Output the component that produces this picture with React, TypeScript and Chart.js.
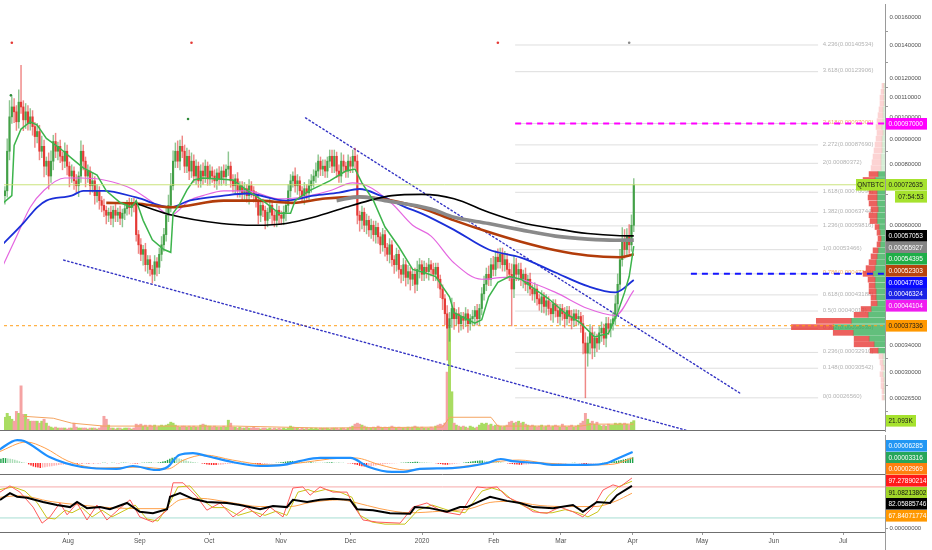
import React, { useEffect, useRef } from 'react';
import { Chart, registerables } from 'chart.js';

Chart.register(...registerables);

const FONT = '"Liberation Sans", Arial, sans-serif';
const AXIS_W = 47;
const X_MIN = 0.605;
const X_MAX = 383.06;
const Y_MIN = 0.0002271;
const Y_MAX = 0.0017055;

// Calendar: day 0 = 2 Jul 2019, one candle per day
const monthDays = [30, 61, 91, 122, 152, 183, 214, 243, 274, 304, 335, 365];
const monthLabels = ['Aug', 'Sep', 'Oct', 'Nov', 'Dec', '2020', 'Feb', 'Mar', 'Apr', 'May', 'Jun', 'Jul'];

const priceTicks = [0.0016, 0.0014, 0.0012, 0.0011, 0.001, 0.0009, 0.0008, 0.0006, 0.00034, 0.0003, 0.000265];

// Daily candles, prices x 1e6 BTC
const firstOpenE6 = 757;
const closeE6 = [
  690, 706, 851, 1001, 1049, 1025, 978, 1073, 1049, 987, 1025, 969, 1001, 956, 912, 934, 851, 871, 793, 812, 757, 812, 891, 851, 871,
  831, 812, 851, 793, 757, 775, 740, 723, 757, 851, 812, 757, 775, 723, 740, 690, 706, 674, 659, 644, 629, 638, 620, 644, 629,
  638, 620, 635, 649, 662, 652, 668, 659, 574, 547, 523, 535, 498, 510, 487, 476, 505, 492, 523, 547, 574, 629, 659, 723, 812,
  851, 812, 871, 851, 793, 831, 775, 812, 757, 793, 740, 775, 757, 793, 747, 775, 757, 740, 768, 747, 775, 754, 782, 793, 740,
  723, 747, 706, 723, 699, 713, 690, 723, 706, 690, 674, 629, 659, 644, 614, 638, 659, 629, 614, 644, 629, 620, 638, 659, 706,
  740, 757, 723, 740, 706, 690, 713, 699, 723, 740, 757, 775, 812, 782, 793, 775, 812, 831, 793, 831, 775, 757, 812, 793, 775,
  812, 793, 831, 812, 629, 614, 638, 600, 614, 587, 600, 574, 594, 568, 547, 574, 540, 523, 547, 510, 498, 523, 487, 476, 498,
  469, 482, 465, 476, 454, 487, 498, 476, 492, 482, 498, 487, 476, 492, 465, 444, 424, 395, 369, 386, 405, 386, 395, 377, 390,
  383, 395, 377, 386, 390, 401, 386, 405, 434, 454, 476, 465, 498, 487, 516, 505, 523, 498, 510, 487, 476, 444, 498, 476, 487,
  465, 476, 454, 465, 444, 434, 444, 424, 414, 428, 409, 420, 405, 395, 414, 401, 390, 405, 395, 386, 401, 390, 383, 395, 386,
  390, 377, 344, 328, 344, 361, 336, 352, 344, 361, 369, 352, 377, 369, 377, 386, 414, 454, 510, 560, 535, 568, 547, 600, 726,
];
const upWickPct = [
  3, 2, 6, 8, 5, 4, 3, 6, 19, 3, 4, 3, 4, 3, 2, 4, 3, 5, 3, 2, 4, 5, 3, 4, 2,
  3, 2, 4, 3, 2, 3, 2, 3, 2, 5, 3, 2, 3, 2, 4, 2, 3, 2, 2, 3, 2, 2, 3, 2, 3,
  2, 3, 2, 3, 2, 3, 2, 2, 2, 2, 3, 2, 3, 2, 2, 2, 3, 2, 3, 4, 3, 4, 5, 6, 5,
  4, 5, 3, 5, 3, 4, 3, 4, 3, 3, 2, 3, 4, 3, 2, 3, 2, 3, 2, 3, 2, 3, 2, 7, 2,
  3, 2, 3, 2, 2, 3, 2, 3, 2, 2, 2, 3, 2, 3, 2, 2, 3, 2, 2, 3, 2, 2, 3, 2, 3,
  3, 2, 4, 3, 2, 2, 3, 2, 3, 3, 3, 4, 3, 2, 3, 3, 2, 3, 3, 3, 2, 3, 4, 3, 2,
  3, 2, 3, 4, 3, 2, 3, 2, 3, 2, 3, 2, 3, 2, 2, 3, 2, 2, 3, 2, 2, 3, 2, 2, 3,
  2, 3, 2, 2, 3, 4, 3, 2, 3, 2, 3, 2, 3, 2, 2, 2, 2, 2, 4, 3, 5, 3, 2, 3, 2,
  2, 3, 2, 2, 3, 2, 3, 2, 3, 4, 3, 4, 3, 4, 3, 4, 3, 3, 4, 3, 3, 5, 4, 3, 3,
  3, 2, 3, 2, 3, 2, 3, 2, 2, 3, 2, 3, 2, 3, 2, 2, 3, 2, 2, 3, 2, 2, 3, 2, 2,
  3, 2, 4, 5, 3, 4, 3, 3, 2, 3, 3, 2, 3, 3, 2, 3, 4, 5, 5, 6, 5, 4, 6, 5, 3,
];
const dnWickPct = [
  3, 4, 3, 4, 3, 5, 4, 3, 3, 5, 4, 3, 3, 4, 5, 3, 4, 3, 5, 4, 6, 3, 4, 3, 4,
  3, 4, 3, 4, 5, 3, 4, 3, 5, 3, 4, 5, 3, 4, 3, 4, 3, 4, 3, 3, 4, 3, 3, 4, 3,
  3, 3, 4, 3, 3, 3, 4, 3, 3, 4, 3, 5, 3, 4, 3, 4, 3, 4, 3, 3, 3, 3, 3, 3, 2,
  3, 3, 4, 3, 3, 3, 4, 3, 3, 4, 3, 3, 4, 3, 3, 3, 3, 3, 4, 3, 3, 3, 4, 3, 3,
  3, 4, 3, 3, 4, 3, 3, 4, 3, 3, 3, 4, 3, 3, 4, 3, 3, 4, 3, 3, 4, 3, 3, 4, 3,
  3, 3, 3, 4, 3, 3, 4, 3, 3, 3, 3, 3, 3, 3, 3, 3, 3, 3, 3, 3, 3, 3, 3, 3, 3,
  3, 3, 3, 3, 4, 5, 4, 3, 4, 3, 4, 3, 4, 3, 4, 3, 4, 3, 4, 3, 4, 3, 4, 4, 3,
  4, 3, 5, 3, 4, 3, 4, 3, 3, 3, 4, 3, 3, 3, 4, 4, 5, 5, 14, 6, 4, 5, 3, 4, 3,
  4, 3, 4, 3, 3, 4, 3, 3, 3, 3, 3, 3, 3, 3, 3, 3, 3, 3, 3, 4, 3, 16, 4, 3, 3,
  3, 4, 3, 4, 3, 3, 4, 3, 3, 4, 3, 4, 3, 3, 4, 3, 3, 4, 3, 4, 3, 3, 4, 3, 3,
  3, 4, 5, 19, 6, 5, 5, 4, 4, 3, 4, 3, 4, 3, 4, 3, 3, 3, 3, 3, 4, 3, 4, 3, 3,
];
const volumeK = [
  24, 28, 36, 30, 24, 20, 40, 36, 92, 34, 34, 24, 20, 20, 20, 20, 16, 20, 24, 16, 10, 8, 6, 8, 6,
  6, 6, 6, 4, 6, 6, 16, 8, 6, 6, 6, 6, 4, 6, 6, 6, 4, 6, 10, 30, 24, 12, 6, 6, 4,
  6, 6, 4, 6, 6, 6, 4, 6, 14, 12, 14, 10, 12, 8, 12, 10, 12, 8, 10, 12, 10, 12, 14, 18, 16,
  12, 10, 8, 10, 10, 8, 10, 8, 10, 8, 8, 12, 14, 12, 10, 10, 8, 10, 8, 8, 8, 10, 8, 22, 16,
  8, 8, 6, 8, 6, 6, 8, 6, 6, 8, 6, 6, 4, 6, 6, 4, 6, 4, 6, 4, 6, 4, 6, 4, 6,
  10, 8, 6, 6, 4, 6, 4, 6, 4, 6, 4, 6, 4, 6, 6, 6, 6, 4, 6, 6, 6, 4, 6, 6, 4,
  6, 8, 10, 14, 16, 14, 12, 10, 8, 6, 6, 8, 6, 10, 8, 6, 8, 6, 8, 10, 8, 6, 8, 6, 6,
  6, 8, 6, 8, 10, 8, 6, 8, 6, 6, 6, 8, 6, 10, 12, 14, 12, 16, 120, 208, 80, 16, 12, 10, 8,
  10, 8, 6, 10, 8, 6, 8, 12, 16, 14, 16, 12, 14, 10, 12, 12, 10, 8, 10, 12, 18, 20, 16, 18, 20,
  16, 18, 14, 12, 10, 12, 10, 8, 10, 12, 8, 10, 12, 8, 10, 12, 10, 8, 14, 10, 8, 10, 12, 8, 10,
  12, 16, 20, 36, 24, 16, 20, 14, 18, 12, 10, 12, 10, 14, 12, 12, 16, 14, 16, 14, 16, 14, 12, 18, 21.093,
];
const volumeMaK = [[9, 30], [22, 26], [30, 16], [44, 10], [101, 10], [139, 6], [191, 8], [194, 28], [212, 28], [215, 10], [251, 10], [256, 14], [274, 14]];

// Moving averages [day, price x 1e6]
const maBlack = [[58, 665], [72, 632], [95, 605], [110, 600], [123, 605], [135, 623], [149, 653], [159, 674], [169, 690], [182, 694], [196, 680], [211, 638], [225, 608], [240, 590], [254, 577], [268, 571], [274, 570.53]];
const maGray = [[145, 674], [155, 686], [166, 674], [186, 648], [196, 623], [211, 605], [225, 587], [240, 570], [254, 562], [266, 559], [274, 559.27]];
const maBrown = [[45, 667], [58, 665], [73, 653], [96, 674], [110, 674], [126, 667], [140, 681], [155, 686], [169, 674], [182, 650], [196, 614], [211, 581], [225, 555], [240, 533], [254, 520], [268, 516], [274, 523.03]];
const maBlue = [[0, 548], [9, 606], [15, 653], [19, 674], [30, 690], [35, 706], [44, 706], [58, 684], [73, 653], [81, 674], [96, 690], [106, 697], [123, 674], [135, 690], [146, 700], [155, 712], [164, 690], [175, 653], [182, 634], [196, 587], [211, 535], [225, 515], [240, 480], [254, 450], [266, 437], [274, 463.24]];
const maPink = [[0, 494], [6, 568], [12, 653], [18, 708], [27, 750], [34, 750], [44, 743], [56, 713], [64, 674], [73, 629], [81, 674], [87, 690], [96, 706], [106, 706], [120, 680], [129, 684], [142, 706], [152, 733], [158, 724], [169, 665], [178, 600], [186, 570], [196, 502], [208, 465], [218, 469], [225, 465], [240, 437], [254, 405], [266, 392], [274, 441.04]];
const trailGreen = [[0, 665], [4, 690], [5, 875], [8, 945], [12, 978], [15, 963], [19, 904], [25, 862], [30, 823], [35, 787], [41, 760], [45, 706], [51, 668], [56, 653], [58, 674], [61, 614], [65, 560], [70, 535], [73, 528], [74, 635], [77, 665], [80, 708], [83, 743], [87, 750], [100, 743], [106, 708], [113, 674], [120, 635], [125, 635], [127, 674], [133, 706], [142, 740], [149, 775], [153, 782], [156, 733], [161, 674], [166, 595], [172, 542], [178, 487], [183, 480], [188, 471], [194, 428], [196, 397], [205, 378], [208, 384], [211, 428], [215, 458], [220, 471], [225, 465], [231, 444], [237, 424], [244, 397], [251, 378], [257, 354], [263, 360], [267, 397], [270, 437], [272, 471], [274, 543.95]];

// Trend lines [day, price x 1e6]
const trendUpper = [[131.5, 996], [320.4, 271]];
const trendLower = [[26.5, 509], [296.6, 228]];

// Fibonacci extension
const FIB_START = 222.5;
const FIB_END = 354;
const FIB_LABEL = 356;
const fibLevels = ['0', '0.148', '0.236', '0.382', '0.5', '0.618', '0.786', '1', '1.236', '1.382', '1.618', '2', '2.272', '2.618', '3.618', '4.236'];
const fibPrices = [0.0002656, 0.00030542, 0.0003291, 0.00036838, 0.00040013, 0.00043188, 0.00047708, 0.00053466, 0.00059816, 0.00063744, 0.00070094, 0.00080372, 0.0008769, 0.00097, 0.00123906, 0.00140534];

const lastPrice = 0.00072635;
const targetPrice = 0.00097;
const fib786Price = 0.00047708;
const pocPrice = 0.00037336;

// Volume profile rows (price x 1e6) and relative volume
const vpRowE6 = [266, 274, 281, 289, 297, 306, 314, 323, 332, 342, 351, 361, 371, 382, 393, 404, 415, 427, 439, 451, 464, 477, 490, 504, 518, 533, 548, 563, 579, 595, 612, 629, 647, 665, 684, 703, 723, 743, 764, 786, 808, 830, 854, 878, 903, 928, 954, 981, 1009, 1037, 1066, 1096, 1127, 1159];
const vpUp = [1, 1, 1, 1, 2, 1, 2, 2, 7, 11, 16, 32, 52, 34, 17, 14, 8, 9, 9, 10, 10, 12, 10, 9, 8, 7, 5, 4, 5, 6, 8, 8, 7, 8, 8, 8, 9, 10, 7, 4, 4, 4, 3, 3, 3, 2, 3, 2, 2, 2, 1, 1, 1, 1];
const vpDown = [2, 2, 3, 3, 3, 3, 3, 4, 8, 20, 15, 20, 42, 35, 14, 10, 6, 5, 7, 6, 7, 10, 9, 7, 6, 5, 3, 3, 3, 4, 7, 8, 7, 8, 9, 8, 13, 12, 9, 10, 9, 8, 8, 7, 6, 6, 6, 6, 5, 4, 4, 4, 3, 2];

// Signal markers [day, price x 1e6]
const signalRed = [[4, 1420], [82, 1420], [215, 1420]];
const signalGray = [[272, 1420]];
const signalGreen = [[3.6, 1108], [80.5, 991]];

// MACD (x 1e6)
const macdLine = [[0, 74], [8, 131], [11, 126], [22, 34], [36, -23], [51, -34], [58, -17], [68, -40], [73, -23], [78, 46], [84, 57], [90, 40], [101, 6], [113, -17], [123, -11], [130, 11], [139, 29], [152, 29], [160, -23], [170, -51], [175, -51], [182, -34], [196, -29], [211, 0], [217, 23], [222, 11], [233, 0], [240, -11], [254, -11], [263, 0], [268, 29], [274, 62.85]];
const macdSignal = [[0, 63], [12, 120], [20, 86], [30, 11], [44, -29], [61, -23], [73, -34], [80, 17], [89, 46], [101, 17], [117, -11], [130, 0], [143, 23], [154, 29], [165, -11], [176, -40], [186, -34], [199, -23], [214, 6], [225, 17], [236, 0], [256, -11], [266, -6], [274, 29.69]];
const macdHist = [
  20, 24, 28, 28, 26, 24, 22, 18, 14, 10, 6, 3, 1,
  -8, -14, -20, -24, -26, -28, -26, -24, -22, -20, -18, -16, -14, -12, -10, -9, -8, -7, -6, -5, -4,
  -4, -3, -3, -2, -2, -3, -2, -2, -1, -1,
  -1, 1, 1, -1, 0, 1, 1, -1, -1, 1, 2, 2, 1, -1,
  -2, -3, -3, -2, 1, 2, 2, 3, 3,
  2, 1, 3, 5, 8, 12,
  18, 24, 30, 32, 30, 26, 22,
  18, 14, 10, 8, 6, 4, 2, 0,
  -3, -5, -8, -10, -11, -12, -12, -11, -10, -8, -6, -5, -4, -3,
  -2, -1, 0, 1, 1, 0, -1, -2,
  -4, -6, -8, -9, -8, -6, -4, -2,
  -1, 0, 1, 2, 4, 6, 8, 10,
  12, 12, 11, 10, 9, 8, 7, 6, 5, 5, 4, 3, 2, 1,
  1, 2, 3, 3, 4, 3, 2, 2, 1, 1, 0, -1, -2,
  -4, -8, -12, -16, -18, -20, -21, -20, -18, -16, -14, -12, -10, -8, -6, -5, -4, -3,
  -2, -1, 0, 1, 2, 3, 4, 5,
  6, 7, 7, 6, 5, 4, 3, 2, 1, 0,
  -2, -4, -6, -8, -10, -10, -9, -7, -5, -3, -1, 0,
  2, 4, 6, 8, 10, 12, 13, 14, 14, 13, 12, 11,
  10, 9, 8, 6, 4, 2, 0, -2, -4,
  -6, -8, -9, -10, -10, -9, -8, -7, -6, -5, -4, -3,
  -2, -2, -1, -1, 0, 0, -1, -1, -2, -2, -1, -1, 0, 0, 1, 1, 0, -1,
  -3, -5, -6, -5, -4, -3, -2, -1, 0, 1, 2,
  4, 6, 8, 10, 12, 14, 17, 20, 23, 26, 30, 33.16,
];

// Stochastic / RSI panel [day, value]
const stochBlack = [[0.6, 54.7], [4.9, 68], [8, 61], [12.3, 59], [19.2, 51], [25.2, 45], [30.9, 41], [33.9, 51], [38.2, 39], [43.8, 41], [48.1, 37], [55.5, 49], [61, 32], [66.7, 29], [72.8, 37], [74.1, 61], [78.4, 68], [84, 57], [90, 51], [98.7, 49], [104.3, 45], [113, 37], [118.6, 43], [124.6, 41], [127.2, 55], [133.3, 51], [138.9, 55], [144.5, 57], [151.9, 55], [154.9, 37], [161.8, 35], [169.1, 29], [177.8, 28], [179.9, 41], [186.4, 39], [193.8, 32], [199.4, 41], [202.4, 41], [209.3, 55], [212.4, 61], [219.7, 53], [225.3, 49], [231, 41], [239.6, 39], [248.2, 45], [252.5, 32], [258.6, 51], [264.2, 49], [267.2, 64], [273.7, 82.06]];
const stochRed = [[0.6, 70], [4.9, 82], [9.2, 70], [14.9, 41], [18.8, 10], [22.2, 22], [26.5, 49], [29.6, 26], [33.9, 49], [38.2, 16], [42.5, 45], [46.8, 16], [52.5, 39], [56.8, 55], [61, 22], [66.7, 12], [72.8, 35], [75.4, 88], [79.7, 88], [85.7, 61], [90, 35], [95.7, 49], [101.3, 22], [107.3, 41], [113, 22], [117.3, 41], [122.9, 22], [127.2, 78], [131.5, 80], [134.6, 64], [138.9, 80], [144.5, 70], [150.6, 70], [153.2, 45], [157.5, 16], [163.5, 12], [173.5, 10], [179.1, 41], [185.1, 49], [192, 32], [199.4, 26], [206.7, 80], [211, 78], [215.4, 80], [219.7, 61], [225.3, 49], [231, 32], [237, 29], [242.6, 41], [248.2, 32], [252.5, 22], [256.9, 41], [261.2, 74], [265.5, 84], [268.5, 80], [273.7, 97.28]];
const stochYellow = [[0.6, 75], [6.2, 80], [11.4, 72], [16.6, 50], [20.9, 20], [24.4, 18], [28.7, 35], [31.7, 30], [36, 40], [40.4, 22], [44.7, 35], [49, 22], [54.6, 35], [59, 45], [64.1, 18], [68.9, 14], [74.1, 50], [77.5, 80], [82.7, 82], [87.9, 55], [92.7, 40], [97.8, 40], [103.5, 25], [109.5, 33], [115.1, 25], [119.9, 33], [124.6, 25], [129.4, 70], [133.7, 75], [136.7, 70], [141.1, 75], [147.5, 70], [152.7, 60], [156.2, 25], [161.4, 12], [167, 8], [175.6, 8], [181.2, 35], [187.3, 45], [194.2, 35], [201.6, 30], [208.9, 72], [213.2, 78], [217.5, 72], [221.9, 55], [227.5, 42], [234, 30], [239.2, 30], [244.8, 36], [250.4, 30], [254.7, 22], [259, 32], [263.4, 62], [267.7, 80], [273.7, 91.08]];
const stochOrange = [[0.6, 60], [9.2, 63], [22.2, 52], [35.2, 45], [48.1, 40], [61.1, 38], [71.9, 38], [78.4, 55], [87, 58], [100, 50], [113, 42], [125.9, 42], [134.6, 50], [147.5, 55], [154, 50], [164.8, 38], [177.8, 30], [190.8, 33], [203.7, 38], [212.4, 50], [221, 52], [234, 44], [246.9, 42], [257.7, 42], [266.4, 52], [273.7, 67.84]];
const stochUpperBand = 80;
const stochLowerBand = 20;

// ---------- helpers ----------
type Box = { value: number; text: string; bg: string; fg: string };

const mainBoxes: Box[] = [
  { value: targetPrice, text: '0.00097000', bg: '#ff00ff', fg: '#ffffff' },
  { value: 0.00057053, text: '0.00057053', bg: '#000000', fg: '#ffffff' },
  { value: 0.00055927, text: '0.00055927', bg: '#858585', fg: '#ffffff' },
  { value: 0.00054395, text: '0.00054395', bg: '#1fae48', fg: '#ffffff' },
  { value: 0.00052303, text: '0.00052303', bg: '#b8430d', fg: '#ffffff' },
  { value: 0.00047708, text: '0.00047708', bg: '#0a0aff', fg: '#ffffff' },
  { value: 0.00046324, text: '0.00046324', bg: '#1a22e6', fg: '#ffffff' },
  { value: 0.00044104, text: '0.00044104', bg: '#f01cf0', fg: '#ffffff' },
  { value: pocPrice, text: '0.00037336', bg: '#ff9800', fg: '#1a1a1a' },
];
const macdBoxes: Box[] = [
  { value: 62.85, text: '0.00006285', bg: '#2196f3', fg: '#ffffff' },
  { value: 33.16, text: '0.00003316', bg: '#26a65b', fg: '#ffffff' },
  { value: 29.69, text: '0.00002969', bg: '#ff7f0e', fg: '#ffffff' },
];
const stochBoxes: Box[] = [
  { value: 97.2789, text: '97.27890214', bg: '#ff1a1a', fg: '#ffffff' },
  { value: 91.0821, text: '91.08213802', bg: '#a2d62a', fg: '#111111' },
  { value: 82.0589, text: '82.05885746', bg: '#000000', fg: '#ffffff' },
  { value: 67.8407, text: '67.84071774', bg: '#ff9800', fg: '#ffffff' },
];

const LIME = '#a6e22e';
const BOX_H = 11.6;

function layoutBoxes(ys: number[], top: number, bottom: number, h: number) {
  const order = ys.map((_, i) => i).sort((a, b) => ys[a] - ys[b]);
  const out = ys.slice();
  let prev = -Infinity;
  for (const i of order) {
    const y = Math.max(out[i], top + h / 2, prev + h);
    out[i] = y;
    prev = y;
  }
  let next = Infinity;
  for (let k = order.length - 1; k >= 0; k--) {
    const i = order[k];
    const y = Math.min(out[i], bottom - h / 2, next - h);
    out[i] = y;
    next = y;
  }
  return out;
}

function drawBox(ctx: CanvasRenderingContext2D, x: number, y: number, w: number, text: string, bg: string, fg: string, align: 'left' | 'center' = 'left') {
  ctx.fillStyle = bg;
  ctx.fillRect(x, Math.round(y - BOX_H / 2), w, BOX_H);
  ctx.fillStyle = fg;
  ctx.font = `6.5px ${FONT}`;
  ctx.textBaseline = 'middle';
  ctx.textAlign = align;
  ctx.fillText(text, align === 'left' ? x + 2.5 : x + w / 2, Math.round(y - BOX_H / 2) + BOX_H / 2 + 0.5);
}

function drawBoxes(chart: any, scaleId: string, boxes: Box[]) {
  const { ctx, chartArea } = chart;
  const sc = chart.scales[scaleId];
  const ys = boxes.map((b) => sc.getPixelForValue(b.value));
  const pos = layoutBoxes(ys, chartArea.top, chartArea.bottom, BOX_H);
  ctx.save();
  boxes.forEach((b, i) => drawBox(ctx, chartArea.right + 1, pos[i], 41, b.text, b.bg, b.fg));
  ctx.restore();
}

function separator(chart: any) {
  const { ctx, chartArea } = chart;
  ctx.save();
  ctx.strokeStyle = '#6f6f6f';
  ctx.lineWidth = 1;
  ctx.beginPath();
  ctx.moveTo(0, chartArea.bottom - 0.5);
  ctx.lineTo(chartArea.right, chartArea.bottom - 0.5);
  ctx.stroke();
  ctx.restore();
}

const pts = (arr: number[][], div = 1) => arr.map(([x, y]) => ({ x, y: y / div }));

const lineDs = (data: any[], color: string, width: number, extra: any = {}) => ({
  type: 'line',
  data,
  borderColor: color,
  borderWidth: width,
  pointRadius: 0,
  fill: false,
  xAxisID: 'x',
  yAxisID: 'y',
  ...extra,
});

const baseOptions = () => ({
  responsive: false,
  animation: false,
  events: [],
  layout: { padding: 0 },
  plugins: { legend: { display: false }, tooltip: { enabled: false } },
});

const xHidden = { type: 'linear', min: X_MIN, max: X_MAX, display: false, offset: false, bounds: 'data' };

const rightAxis = (extra: any) => ({
  position: 'right',
  bounds: 'data',
  afterFit: (s: any) => {
    s.width = AXIS_W;
    s.paddingTop = 0;
    s.paddingBottom = 0;
  },
  grid: { drawOnChartArea: false, drawTicks: true, tickLength: 3, color: '#9a9a9a' },
  border: { display: true, color: '#9a9a9a' },
  ...extra,
});

// ---------- candles ----------
const opensE6 = closeE6.map((c, i) => (i === 0 ? firstOpenE6 : closeE6[i - 1]));
const isUp = closeE6.map((c, i) => c >= opensE6[i]);
const UP = '#43a047';
const DN = '#e53935';

function mainConfig(): any {
  const datasets: any[] = [];

  fibPrices.forEach((p) =>
    datasets.push(lineDs([{ x: FIB_START, y: p }, { x: FIB_END, y: p }], 'rgba(160,160,160,0.35)', 1, { order: 100 }))
  );

  datasets.push({
    type: 'bar',
    data: volumeK.map((v, i) => ({ x: i, y: v })),
    backgroundColor: (c: any) => (isUp[c.dataIndex] ? '#a9dc62' : '#f5a3a3'),
    barPercentage: 1,
    categoryPercentage: 1,
    grouped: false,
    xAxisID: 'x',
    yAxisID: 'vol',
    order: 96,
  });
  datasets.push({ ...lineDs(pts(volumeMaK), '#f4a460', 1), yAxisID: 'vol', order: 95 });

  const faded = (i: number) => i < 8 || i > 38;
  datasets.push({
    type: 'bar',
    indexAxis: 'y',
    data: vpRowE6.map((p, i) => ({ y: p / 1e6, x: [0, vpUp[i]] })),
    backgroundColor: (c: any) => (faded(c.dataIndex) ? 'rgba(120,200,120,0.3)' : 'rgba(46,170,80,0.75)'),
    barThickness: 5,
    grouped: false,
    xAxisID: 'vpx',
    yAxisID: 'y',
    order: 93,
  });
  datasets.push({
    type: 'bar',
    indexAxis: 'y',
    data: vpRowE6.map((p, i) => ({ y: p / 1e6, x: [vpUp[i], vpUp[i] + vpDown[i]] })),
    backgroundColor: (c: any) => (faded(c.dataIndex) ? 'rgba(245,130,130,0.35)' : 'rgba(232,62,58,0.82)'),
    barThickness: 5,
    grouped: false,
    xAxisID: 'vpx',
    yAxisID: 'y',
    order: 92,
  });

  datasets.push(lineDs([{ x: X_MIN, y: pocPrice }, { x: X_MAX, y: pocPrice }], '#ff9f1a', 1, { borderDash: [3, 3], order: 90 }));
  datasets.push(lineDs(pts(trendUpper, 1e6), '#3434c4', 1.4, { borderDash: [1.5, 2.6], borderCapStyle: 'round', order: 85 }));
  datasets.push(lineDs(pts(trendLower, 1e6), '#3434c4', 1.4, { borderDash: [1.5, 2.6], borderCapStyle: 'round', order: 85 }));

  datasets.push({
    type: 'bar',
    data: closeE6.map((c, i) => {
      const o = opensE6[i];
      return { x: i, y: [(Math.min(o, c) * (1 - dnWickPct[i] / 100)) / 1e6, (Math.max(o, c) * (1 + upWickPct[i] / 100)) / 1e6] };
    }),
    backgroundColor: (c: any) => (isUp[c.dataIndex] ? 'rgba(67,160,71,0.6)' : 'rgba(229,57,53,0.6)'),
    barThickness: 0.8,
    grouped: false,
    xAxisID: 'x',
    yAxisID: 'y',
    order: 80,
  });
  datasets.push({
    type: 'bar',
    data: closeE6.map((c, i) => ({ x: i, y: [opensE6[i] / 1e6, c / 1e6] })),
    backgroundColor: (c: any) => (isUp[c.dataIndex] ? UP : DN),
    barThickness: 1.5,
    grouped: false,
    xAxisID: 'x',
    yAxisID: 'y',
    order: 79,
  });

  const smooth = { cubicInterpolationMode: 'monotone' };
  datasets.push(lineDs(pts(maPink, 1e6), '#e466e0', 1.2, { ...smooth, order: 70 }));
  datasets.push(lineDs(pts(maBlue, 1e6), '#1b2fd8', 1.8, { ...smooth, order: 69 }));
  datasets.push(lineDs(pts(maBrown, 1e6), '#b23c0a', 2.6, { ...smooth, order: 68 }));
  datasets.push(lineDs(pts(maGray, 1e6), '#8a8a8a', 3.6, { ...smooth, order: 67 }));
  datasets.push(lineDs(pts(maBlack, 1e6), '#000000', 1.6, { ...smooth, order: 66 }));
  datasets.push(lineDs(pts(trailGreen, 1e6), '#3cb44b', 1.5, { order: 60 }));

  datasets.push(lineDs([{ x: FIB_START, y: targetPrice }, { x: X_MAX, y: targetPrice }], '#ff00ff', 2, { borderDash: [6, 5], order: 55 }));
  datasets.push(lineDs([{ x: 298.8, y: fib786Price }, { x: X_MAX, y: fib786Price }], '#1414ff', 2, { borderDash: [6, 5], order: 55 }));
  datasets.push(lineDs([{ x: X_MIN, y: lastPrice }, { x: X_MAX, y: lastPrice }], 'rgba(196,224,110,0.9)', 1, { order: 50 }));

  const dots = (arr: number[][], color: string) => ({
    type: 'scatter',
    data: pts(arr, 1e6),
    pointRadius: 1.3,
    pointBackgroundColor: color,
    pointBorderWidth: 0,
    xAxisID: 'x',
    yAxisID: 'y',
    order: 40,
  });
  datasets.push(dots(signalRed, '#e53935'));
  datasets.push(dots(signalGray, '#8a8a8a'));
  datasets.push(dots(signalGreen, '#2e8b3a'));

  const plugin = {
    id: 'mainDecor',
    beforeDatasetsDraw(chart: any) {
      const { ctx } = chart;
      const xs = chart.scales.x;
      const ys = chart.scales.y;
      ctx.save();
      ctx.font = `6px ${FONT}`;
      ctx.textBaseline = 'middle';
      ctx.textAlign = 'left';
      fibPrices.forEach((p, i) => {
        const lvl = fibLevels[i];
        ctx.fillStyle = lvl === '0.786' || lvl === '2.618' ? '#f3b06c' : '#b3b3b3';
        ctx.fillText(`${lvl}(${p.toFixed(8)})`, xs.getPixelForValue(FIB_LABEL), ys.getPixelForValue(p) - 1);
      });
      ctx.restore();
    },
    afterDraw(chart: any) {
      const { ctx, chartArea } = chart;
      separator(chart);
      drawBoxes(chart, 'y', mainBoxes);
      const y = chart.scales.y.getPixelForValue(lastPrice);
      ctx.save();
      drawBox(ctx, chartArea.right - 29, y, 29, 'QNTBTC', LIME, '#1a1a1a', 'center');
      drawBox(ctx, chartArea.right + 1, y, 41, '0.00072635', LIME, '#1a1a1a');
      drawBox(ctx, chartArea.right + 10, y + BOX_H, 32, '07:54:53', LIME, '#1a1a1a', 'center');
      const vy = chart.scales.vol.getPixelForValue(volumeK[volumeK.length - 1]);
      drawBox(ctx, chartArea.right + 1, Math.min(vy, chartArea.bottom - BOX_H / 2 - 1), 30, '21.093K', LIME, '#1a1a1a');
      ctx.restore();
    },
  };

  return {
    type: 'line',
    data: { datasets },
    options: {
      ...baseOptions(),
      scales: {
        x: xHidden,
        y: rightAxis({
          type: 'logarithmic',
          min: Y_MIN,
          max: Y_MAX,
          afterBuildTicks: (s: any) => {
            s.ticks = priceTicks.map((v) => ({ value: v }));
          },
          ticks: {
            callback: (v: any) => Number(v).toFixed(8),
            font: { size: 6, family: FONT },
            color: '#505050',
            padding: 1.5,
            autoSkip: false,
            maxRotation: 0,
          },
        }),
        vol: { type: 'linear', axis: 'y', position: 'left', display: false, min: 0, max: 870, bounds: 'data' },
        vpx: { type: 'linear', axis: 'x', position: 'top', display: false, min: 0, max: 885, reverse: true, bounds: 'data' },
      },
    },
    plugins: [plugin],
  };
}

function macdConfig(): any {
  const datasets: any[] = [
    {
      type: 'bar',
      data: macdHist.map((v, i) => ({ x: i, y: v })),
      backgroundColor: (c: any) => {
        const i = c.dataIndex;
        const v = macdHist[i];
        const p = i > 0 ? macdHist[i - 1] : 0;
        if (v >= 0) return v >= p ? '#1fa34a' : '#a9dcb6';
        return v <= p ? '#ff1f1f' : '#ffb0b0';
      },
      barPercentage: 0.62,
      categoryPercentage: 1,
      grouped: false,
      xAxisID: 'x',
      yAxisID: 'y',
      order: 30,
    },
    lineDs(pts(macdSignal), '#ff9f4a', 1, { cubicInterpolationMode: 'monotone', order: 20 }),
    lineDs(pts(macdLine), '#1e90ff', 2.2, { cubicInterpolationMode: 'monotone', order: 10 }),
  ];
  return {
    type: 'line',
    data: { datasets },
    options: {
      ...baseOptions(),
      scales: {
        x: xHidden,
        y: rightAxis({
          type: 'linear',
          min: -68.5,
          max: 160,
          ticks: { display: false },
          grid: { display: false, drawTicks: false },
        }),
      },
    },
    plugins: [
      {
        id: 'macdDecor',
        afterDraw(chart: any) {
          separator(chart);
          drawBoxes(chart, 'y', macdBoxes);
        },
      },
    ],
  };
}

function stochConfig(): any {
  const band = (v: number, color: string) =>
    lineDs([{ x: X_MIN, y: v }, { x: X_MAX, y: v }], color, 1, { order: 50 });
  const datasets: any[] = [
    band(stochUpperBand, '#f6aaaa'),
    band(stochLowerBand, '#a6ddd2'),
    lineDs(pts(stochOrange), '#ffa04a', 1, { cubicInterpolationMode: 'monotone', order: 40 }),
    lineDs(pts(stochYellow), '#c9c419', 1, { order: 30 }),
    lineDs(pts(stochRed), '#ff5a5a', 1, { order: 20 }),
    lineDs(pts(stochBlack), '#000000', 2, { order: 10 }),
  ];
  return {
    type: 'line',
    data: { datasets },
    options: {
      ...baseOptions(),
      scales: {
        x: {
          type: 'linear',
          min: X_MIN,
          max: X_MAX,
          position: 'bottom',
          bounds: 'data',
          offset: false,
          afterBuildTicks: (s: any) => {
            s.ticks = monthDays.map((v) => ({ value: v }));
          },
          afterFit: (s: any) => {
            s.height = 18;
            s.paddingLeft = 0;
            s.paddingRight = 0;
          },
          ticks: {
            callback: (v: any) => {
              const i = monthDays.indexOf(Number(v));
              return i >= 0 ? monthLabels[i] : '';
            },
            font: { size: 6.5, family: FONT },
            color: '#505050',
            padding: 2.5,
            autoSkip: false,
            maxRotation: 0,
          },
          grid: { drawOnChartArea: false, drawTicks: true, tickLength: 3, color: '#9a9a9a' },
          border: { display: true, color: '#6f6f6f' },
        },
        y: rightAxis({
          type: 'linear',
          min: -7.2,
          max: 103.1,
          afterBuildTicks: (s: any) => {
            s.ticks = [{ value: 0 }];
          },
          ticks: {
            callback: () => '0.00000000',
            font: { size: 6, family: FONT },
            color: '#505050',
            padding: 1.5,
            autoSkip: false,
          },
        }),
      },
    },
    plugins: [
      {
        id: 'stochDecor',
        afterDraw(chart: any) {
          const { ctx, chartArea } = chart;
          ctx.save();
          ctx.strokeStyle = '#9a9a9a';
          ctx.beginPath();
          ctx.moveTo(chartArea.right + 0.5, chartArea.bottom);
          ctx.lineTo(chartArea.right + 0.5, chart.height);
          ctx.stroke();
          ctx.restore();
          drawBoxes(chart, 'y', stochBoxes);
        },
      },
    ],
  };
}

export default function App() {
  const mainRef = useRef<HTMLCanvasElement>(null);
  const macdRef = useRef<HTMLCanvasElement>(null);
  const stochRef = useRef<HTMLCanvasElement>(null);

  useEffect(() => {
    document.body.style.margin = '0';
    document.body.style.background = '#ffffff';
    const charts = [
      new Chart(mainRef.current as HTMLCanvasElement, mainConfig()),
      new Chart(macdRef.current as HTMLCanvasElement, macdConfig()),
      new Chart(stochRef.current as HTMLCanvasElement, stochConfig()),
    ];
    return () => charts.forEach((c) => c.destroy());
  }, []);

  return (
    <div style={{ width: 932, height: 550, overflow: 'hidden', background: '#ffffff', fontFamily: FONT }}>
      <canvas ref={mainRef} width={932} height={435} style={{ display: 'block', width: 932, height: 435 }} />
      <canvas ref={macdRef} width={932} height={40} style={{ display: 'block', width: 932, height: 40 }} />
      <canvas ref={stochRef} width={932} height={75} style={{ display: 'block', width: 932, height: 75 }} />
    </div>
  );
}
